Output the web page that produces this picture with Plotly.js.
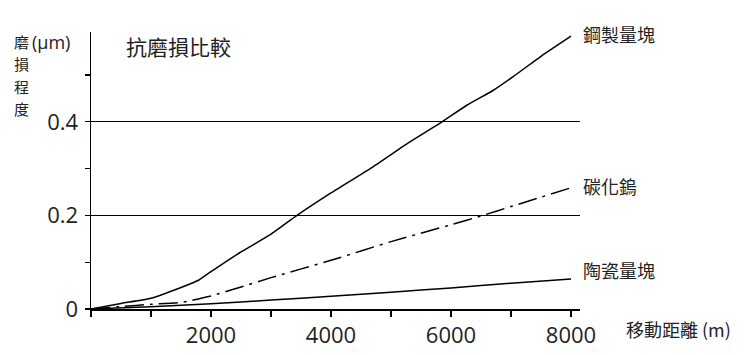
<!DOCTYPE html>
<html>
<head>
<meta charset="utf-8">
<script src="https://cdn.plot.ly/plotly-3.0.1.min.js"></script>
<style>html,body{margin:0;padding:0;background:#fff;}#chart{width:750px;height:355px;}</style>
</head>
<body>
<div id="chart"></div>
<script>
// ---- data ----
const seriesNames = ["鋼製量塊", "碳化鎢", "陶瓷量塊"];
const steelX = [0, 500, 1000, 1500, 1800, 2000, 2200, 2500, 3000, 3433, 4000, 4700, 5300, 5850, 6270, 6700, 7030, 7500, 8000];
const steelY = [0, 0.012, 0.023, 0.046, 0.062, 0.080, 0.097, 0.122, 0.160, 0.200, 0.248, 0.304, 0.356, 0.400, 0.436, 0.467, 0.496, 0.540, 0.583];
const carbideX = [0, 500, 1000, 1500, 2000, 2500, 3000, 4000, 5000, 6000, 6530, 7000, 8000];
const carbideY = [0, 0.005, 0.010, 0.014, 0.028, 0.047, 0.067, 0.104, 0.144, 0.180, 0.200, 0.219, 0.259];
const ceramicX = [0, 1000, 2000, 3000, 4000, 5000, 6000, 7000, 8000];
const ceramicY = [0, 0.005, 0.011, 0.019, 0.027, 0.036, 0.045, 0.055, 0.064];
const xTickVals = [2000, 4000, 6000, 8000];
const xTickText = ["2000", "4000", "6000", "8000"];
const yTickVals = [0, 0.2, 0.4];
const yTickText = ["0", "0.2", "0.4"];
const chartTitle = "抗磨損比較";
const yTitleChars = ["磨", "損", "程", "度"];
const yUnit = "(μm)";
const xTitle = "移動距離 (m)";

// ---- layout geometry (pixels) ----
const L = 91, R = 580, T = 32, B = 309;
const xMax = 8150, yMax = 0.592;
const px = v => (v - L) / (R - L);
const py = v => (B - v) / (B - T);

const numFont = '"Open Sans", "Liberation Sans", sans-serif';
const cjkFont = '"Noto Sans CJK TC", "Noto Sans CJK SC", sans-serif';
const txt = '#222';

const lineStyle = {color: '#000', width: 1.5, shape: 'spline', smoothing: 0.5};
const traces = [
  {x: steelX, y: steelY, mode: 'lines', name: seriesNames[0], line: Object.assign({}, lineStyle), hoverinfo: 'none'},
  {x: carbideX, y: carbideY, mode: 'lines', name: seriesNames[1], line: Object.assign({dash: '19px,6px,3px,6px'}, lineStyle), hoverinfo: 'none'},
  {x: ceramicX, y: ceramicY, mode: 'lines', name: seriesNames[2], line: Object.assign({}, lineStyle), hoverinfo: 'none'}
];

const endLabelY = [34, 186, 270];
const annotations = [];
annotations.push({xref: 'paper', yref: 'paper', x: px(124), y: py(46), xanchor: 'left', yanchor: 'middle',
  text: chartTitle, showarrow: false, font: {family: cjkFont, size: 21, color: txt}});
yTitleChars.forEach((c, i) => {
  annotations.push({xref: 'paper', yref: 'paper', x: px(21), y: py(42 + i * 22), xanchor: 'center', yanchor: 'middle',
    text: c, showarrow: false, font: {family: cjkFont, size: 15, color: txt}});
});
annotations.push({xref: 'paper', yref: 'paper', x: px(30), y: py(42), xanchor: 'left', yanchor: 'middle',
  text: yUnit, showarrow: false, font: {family: '"Open Sans", sans-serif', size: 18, color: txt}});
seriesNames.forEach((n, i) => {
  annotations.push({xref: 'paper', yref: 'paper', x: px(581), y: py(endLabelY[i]), xanchor: 'left', yanchor: 'middle',
    text: n, showarrow: false, font: {family: cjkFont, size: 18, color: txt}});
});
annotations.push({xref: 'paper', yref: 'paper', x: px(624), y: py(329), xanchor: 'left', yanchor: 'middle',
  text: xTitle, showarrow: false, font: {family: cjkFont, size: 18, color: txt}});

const layout = {
  width: 750, height: 355,
  margin: {l: L, r: 750 - R, t: T, b: 355 - B, pad: 0},
  paper_bgcolor: '#fff', plot_bgcolor: '#fff',
  showlegend: false,
  xaxis: {
    range: [0, xMax], showline: true, linecolor: '#000', linewidth: 1.5,
    showgrid: false, zeroline: false,
    tickmode: 'array', tickvals: xTickVals, ticktext: xTickText,
    ticks: 'outside', ticklen: 6, tickwidth: 1.2, tickcolor: '#000',
    ticklabelstandoff: 0,
    tickfont: {family: numFont, size: 22, color: txt},
    minor: {tickmode: 'linear', tick0: 0, dtick: 1000, ticks: 'outside', ticklen: 6, tickwidth: 1.2, tickcolor: '#000', showgrid: false},
    fixedrange: true
  },
  yaxis: {
    range: [0, yMax], showline: true, linecolor: '#000', linewidth: 1.5,
    showgrid: true, gridcolor: '#000', gridwidth: 1.2, zeroline: false,
    tickmode: 'array', tickvals: yTickVals, ticktext: yTickText,
    ticks: 'outside', ticklen: 5, tickwidth: 1.2, tickcolor: '#000',
    ticklabelstandoff: 2,
    tickfont: {family: numFont, size: 22, color: txt},
    minor: {tickmode: 'linear', tick0: 0.1, dtick: 0.2, ticks: 'outside', ticklen: 5, tickwidth: 1.2, tickcolor: '#000', showgrid: false},
    fixedrange: true
  },
  annotations: annotations
};

Plotly.newPlot('chart', traces, layout, {staticPlot: true, displayModeBar: false});
</script>
</body>
</html>
